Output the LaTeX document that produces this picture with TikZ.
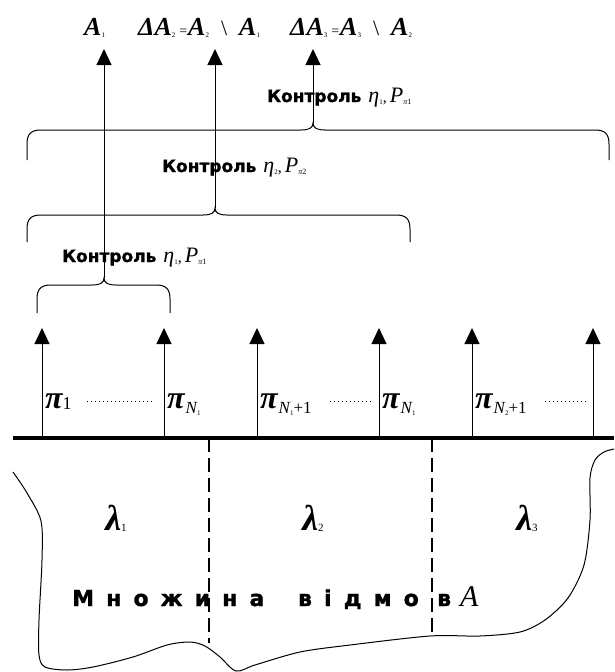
\documentclass[tikz,border=0pt]{standalone}
\usepackage{fontspec}
\usetikzlibrary{arrows.meta}
\newfontfamily\tms{Liberation Serif}
\newfontfamily\dvb[FakeBold=1.2]{DejaVu Sans Bold}
\newfontfamily\dvbsp[LetterSpace=55,FakeBold=1.2]{DejaVu Sans Bold}

% bold italic serif for sets and probabilities
\newcommand\bi{\tms\bfseries\itshape\fontsize{26}{26}\selectfont}
% small subscript
\newcommand\tsub[1]{\raisebox{-2pt}{\fontsize{7}{7}\selectfont\tms\upshape\mdseries #1}}
\newcommand\eqs{{\fontsize{14}{14}\selectfont\upshape\mdseries =}}
\newcommand\setm{{\fontsize{22}{22}\selectfont\upshape\mdseries\textbackslash}}
\newcommand\pii{{\tms\bfseries\itshape\fontsize{32}{32}\selectfont π}}
\newcommand\lam{{\tms\bfseries\itshape\fontsize{36}{36}\selectfont λ}}
\newcommand\kontrol[2]{{\dvb\fontsize{17}{17}\selectfont Контроль}\hspace{7pt}%
  {\tms\itshape\fontsize{22}{22}\selectfont η}\tsub{#1}{\tms\fontsize{16}{16}\selectfont ,}\hspace{3pt}%
  {\tms\itshape\fontsize{22}{22}\selectfont P}\raisebox{-2pt}{\fontsize{8}{8}\selectfont\tms\itshape π\upshape#2}}
\newcommand\nsub[1]{\raisebox{-5pt}{\tms\fontsize{17}{17}\selectfont\itshape N\upshape\tsub{#1}}}
% difference of two consecutive sets
\newcommand\diffset[3]{ΔA\tsub{#1}\hspace{4pt}\eqs\hspace{1pt}A\tsub{#2}\hspace{12pt}\setm\hspace{12pt}A\tsub{#3}}
% spaced bold sans caption
\newcommand\spaced[1]{{\dvbsp\fontsize{22}{22}\selectfont #1}}

% horizontal curly brace: left, right, middle, top y, end y, name of its tip
\newcommand\hbrace[6]{%
  \draw[thinline] (#1,#5) -- (#1,#4+14) .. controls (#1,#4+4) and (#1+4,#4) .. (#1+14,#4)
    -- (#3-12,#4) .. controls (#3-4,#4) and (#3,#4-2) .. (#3,#4-7)
    .. controls (#3,#4-2) and (#3+4,#4) .. (#3+12,#4)
    -- (#2-14,#4) .. controls (#2-4,#4) and (#2,#4+4) .. (#2,#4+14) -- (#2,#5);
  \coordinate (#6) at (#3,#4-7);}

\tikzset{
  txt/.style={inner sep=0pt, anchor=base west},
  thinline/.style={line width=1pt},
  upline/.style={line width=1pt, -{Triangle[width=15pt,length=16pt]}},
  dashline/.style={line width=2pt, dash pattern=on 14pt off 6pt},
  dotline/.style={line width=0.8pt, dash pattern=on 1pt off 3pt},
}

\begin{document}
\begin{tikzpicture}[x=1pt,y=-1pt]
\useasboundingbox (0,0) rectangle (614,672);

% ---- resulting failure sets
\node[txt] (A1) at (84,35) {\bi A\tsub{1}};
\node[txt] (D2) at (138,35) {\bi\diffset{2}{2}{1}};
\node[txt] (D3) at (290,35) {\bi\diffset{3}{3}{2}};

\coordinate (h1) at (104,49);
\coordinate (h2) at (215,49);
\coordinate (h3) at (313,49);

% ---- control braces
\hbrace{27}{609}{313}{130}{160}{b3}
\hbrace{27}{410}{215}{215}{242}{b2}
\hbrace{37}{170}{104}{285}{313}{b1}

\node[txt] (k3) at (267,102) {\kontrol{1}{1}};
\node[txt] (k2) at (162,172) {\kontrol{2}{2}};
\node[txt] (k1) at (62,262) {\kontrol{1}{1}};

\draw[upline] (b1) -- (h1);
\draw[upline] (b2) -- (h2);
\draw[upline] (b3) -- (h3);

% ---- elementary checks on the base line
\coordinate (bl) at (13,438);
\coordinate (br) at (614,438);
\foreach \x/\n in {42/1,164/2,257/3,379/4,472/5,593/6}{
  \coordinate (p\n) at (\x,438);
  \coordinate (q\n) at (\x,328);
  \draw[upline] (p\n) -- (q\n);
}
\draw[line width=3.5pt] (bl) -- (br);

\node[txt] (pi1) at (45,408) {\pii\raisebox{-1pt}{\tms\fontsize{18}{18}\selectfont 1}};
\node[txt] (pi2) at (167,408) {\pii\hspace{1pt}\nsub{1}};
\node[txt] (pi3) at (260,408) {\pii\hspace{1pt}\nsub{1}\raisebox{-5pt}{\tms\fontsize{17}{17}\selectfont +1}};
\node[txt] (pi4) at (382,408) {\pii\hspace{1pt}\nsub{1}};
\node[txt] (pi5) at (475,408) {\pii\hspace{1pt}\nsub{2}\raisebox{-5pt}{\tms\fontsize{17}{17}\selectfont +1}};

\draw[dotline] (87,401) -- (152,401);
\draw[dotline] (330,401) -- (372,401);
\draw[dotline] (545,401) -- (588,401);

% ---- set of failures with its three parts
\draw[thinline] plot[smooth, tension=0.5] coordinates {
  (13,472) (27,493) (41,521) (42,560) (39,620) (39,655) (45,667) (67,670) (93,667)
  (133,657) (167,645) (190,642) (205,646) (220,657) (236,671) (255,665) (300,652)
  (350,645) (430,636) (480,636) (520,632) (545,620) (568,598) (584,565) (590,520)
  (590,478) (595,460) (604,452) (614,449)};

\coordinate (d1t) at (209,438);
\coordinate (d1b) at (209,643);
\coordinate (d2t) at (432,438);
\coordinate (d2b) at (432,636);
\draw[dashline] (d1t) -- (d1b);
\draw[dashline] (d2t) -- (d2b);

\node[inner sep=0pt] (lam1) at (116,518) {\lam\raisebox{-1pt}{\tms\fontsize{11}{11}\selectfont 1}};
\node[inner sep=0pt] (lam2) at (313,518) {\lam\raisebox{-1pt}{\tms\fontsize{11}{11}\selectfont 2}};
\node[inner sep=0pt] (lam3) at (527,518) {\lam\raisebox{-1pt}{\tms\fontsize{11}{11}\selectfont 3}};

% caption, split where the right boundary crosses it
\node[txt] (setA) at (72,606) {\spaced{Множина\hspace{14pt} відмо}};
\node[txt] (setB) at (437,606) {{\dvb\fontsize{22}{22}\selectfont в}\hspace{9pt}{\tms\itshape\fontsize{30}{30}\selectfont A}};
\end{tikzpicture}
\end{document}
